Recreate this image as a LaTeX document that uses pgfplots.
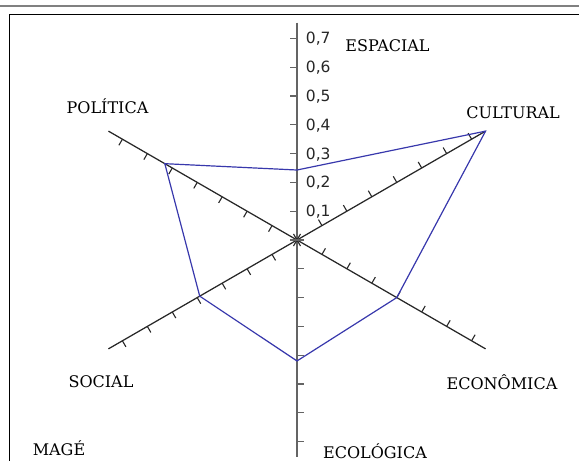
\documentclass[border=0pt]{standalone}
\usepackage{pgfplots}
\pgfplotsset{compat=1.18}
\usepackage{fontspec}
\setmainfont{DejaVu Serif}
\newfontfamily\ticksans{DejaVu Sans}

\definecolor{poly}{RGB}{56,56,172}
\definecolor{spoke}{RGB}{40,40,40}
\definecolor{vspoke}{RGB}{100,100,100}

\newcommand{\lab}{\fontsize{16bp}{18bp}\selectfont}
\newcommand{\tlab}{\ticksans\fontsize{15.5bp}{17bp}\selectfont}

\begin{document}
\begin{tikzpicture}
\begin{axis}[
  x=288bp, y=288bp,
  xmin=-1.03125, xmax=0.979167,
  ymin=-0.767361, ymax=0.833333,
  hide axis, clip=false,
  scale only axis,
]
\coordinate (TL) at (rel axis cs:0,1);

% spokes
\addplot[vspoke, line width=2bp, data cs=polar] coordinates {(90,0.755) (-90,0.755)};
\addplot[spoke, line width=1.25bp, data cs=polar] coordinates {(30,0.756) (210,0.756)};
\addplot[spoke, line width=1.25bp, data cs=polar] coordinates {(150,0.756) (-30,0.756)};

% ticks
\pgfplotsinvokeforeach{30,-30,-150,150}{
  \foreach \r in {0,...,7}{
    \edef\tmp{\noexpand\draw[spoke, line width=1.1bp] (axis cs:{\r*0.1*cos(#1)},{\r*0.1*sin(#1)}) -- ++(#1+90:7bp);}
    \tmp
  }
}
\pgfplotsinvokeforeach{90,-90}{
  \foreach \r in {0,...,7}{
    \edef\tmp{\noexpand\draw[vspoke, line width=1.3bp] (axis cs:{\r*0.1*cos(#1)},{\r*0.1*sin(#1)}) -- ++(#1+90:7bp);}
    \tmp
  }
}

% data
\addplot[poly, line width=1.2bp, line join=miter, data cs=polar] coordinates {
  (90,0.243) (30,0.756) (-30,0.40) (-90,0.42) (-150,0.39) (150,0.53)
} --cycle;

% tick labels
\pgfplotsset{every node/.append style={}}
\node[anchor=base west, inner sep=0pt, font=\tlab, text=black!85] at (axis cs:0,0.1) [xshift=8.7bp, yshift=-5.6bp] {0,1};
\node[anchor=base west, inner sep=0pt, font=\tlab, text=black!85] at (axis cs:0,0.2) [xshift=8.7bp, yshift=-5.6bp] {0,2};
\node[anchor=base west, inner sep=0pt, font=\tlab, text=black!85] at (axis cs:0,0.3) [xshift=8.7bp, yshift=-5.6bp] {0,3};
\node[anchor=base west, inner sep=0pt, font=\tlab, text=black!85] at (axis cs:0,0.4) [xshift=8.7bp, yshift=-5.6bp] {0,4};
\node[anchor=base west, inner sep=0pt, font=\tlab, text=black!85] at (axis cs:0,0.5) [xshift=8.7bp, yshift=-5.6bp] {0,5};
\node[anchor=base west, inner sep=0pt, font=\tlab, text=black!85] at (axis cs:0,0.6) [xshift=8.7bp, yshift=-5.6bp] {0,6};
\node[anchor=base west, inner sep=0pt, font=\tlab, text=black!85] at (axis cs:0,0.7) [xshift=8.7bp, yshift=-5.6bp] {0,7};
\end{axis}

\begin{scope}[shift={(TL)}, x=1bp, y=-1bp]
  \draw[black!50, line width=1.8bp] (0,6) -- (579,6);
  \draw[black, line width=1.4bp] (9.3,461) -- (9.3,14.7) -- (579,14.7);
  \node[anchor=base, font=\lab] at (387.5,51.3) {ESPACIAL};
  \node[anchor=base, font=\lab] at (513,118.8) {CULTURAL};
  \node[anchor=base, font=\lab] at (107.5,113.8) {POLÍTICA};
  \node[anchor=base, font=\lab] at (101,387.3) {SOCIAL};
  \node[anchor=base, font=\lab] at (502,389.8) {ECONÔMICA};
  \node[anchor=base, font=\lab] at (375,458.3) {ECOLÓGICA};
  \node[anchor=base, font=\lab] at (59,455.8) {MAGÉ};
\end{scope}

\pgfresetboundingbox
\path (TL) rectangle ++(579bp,-461bp);
\end{tikzpicture}
\end{document}
